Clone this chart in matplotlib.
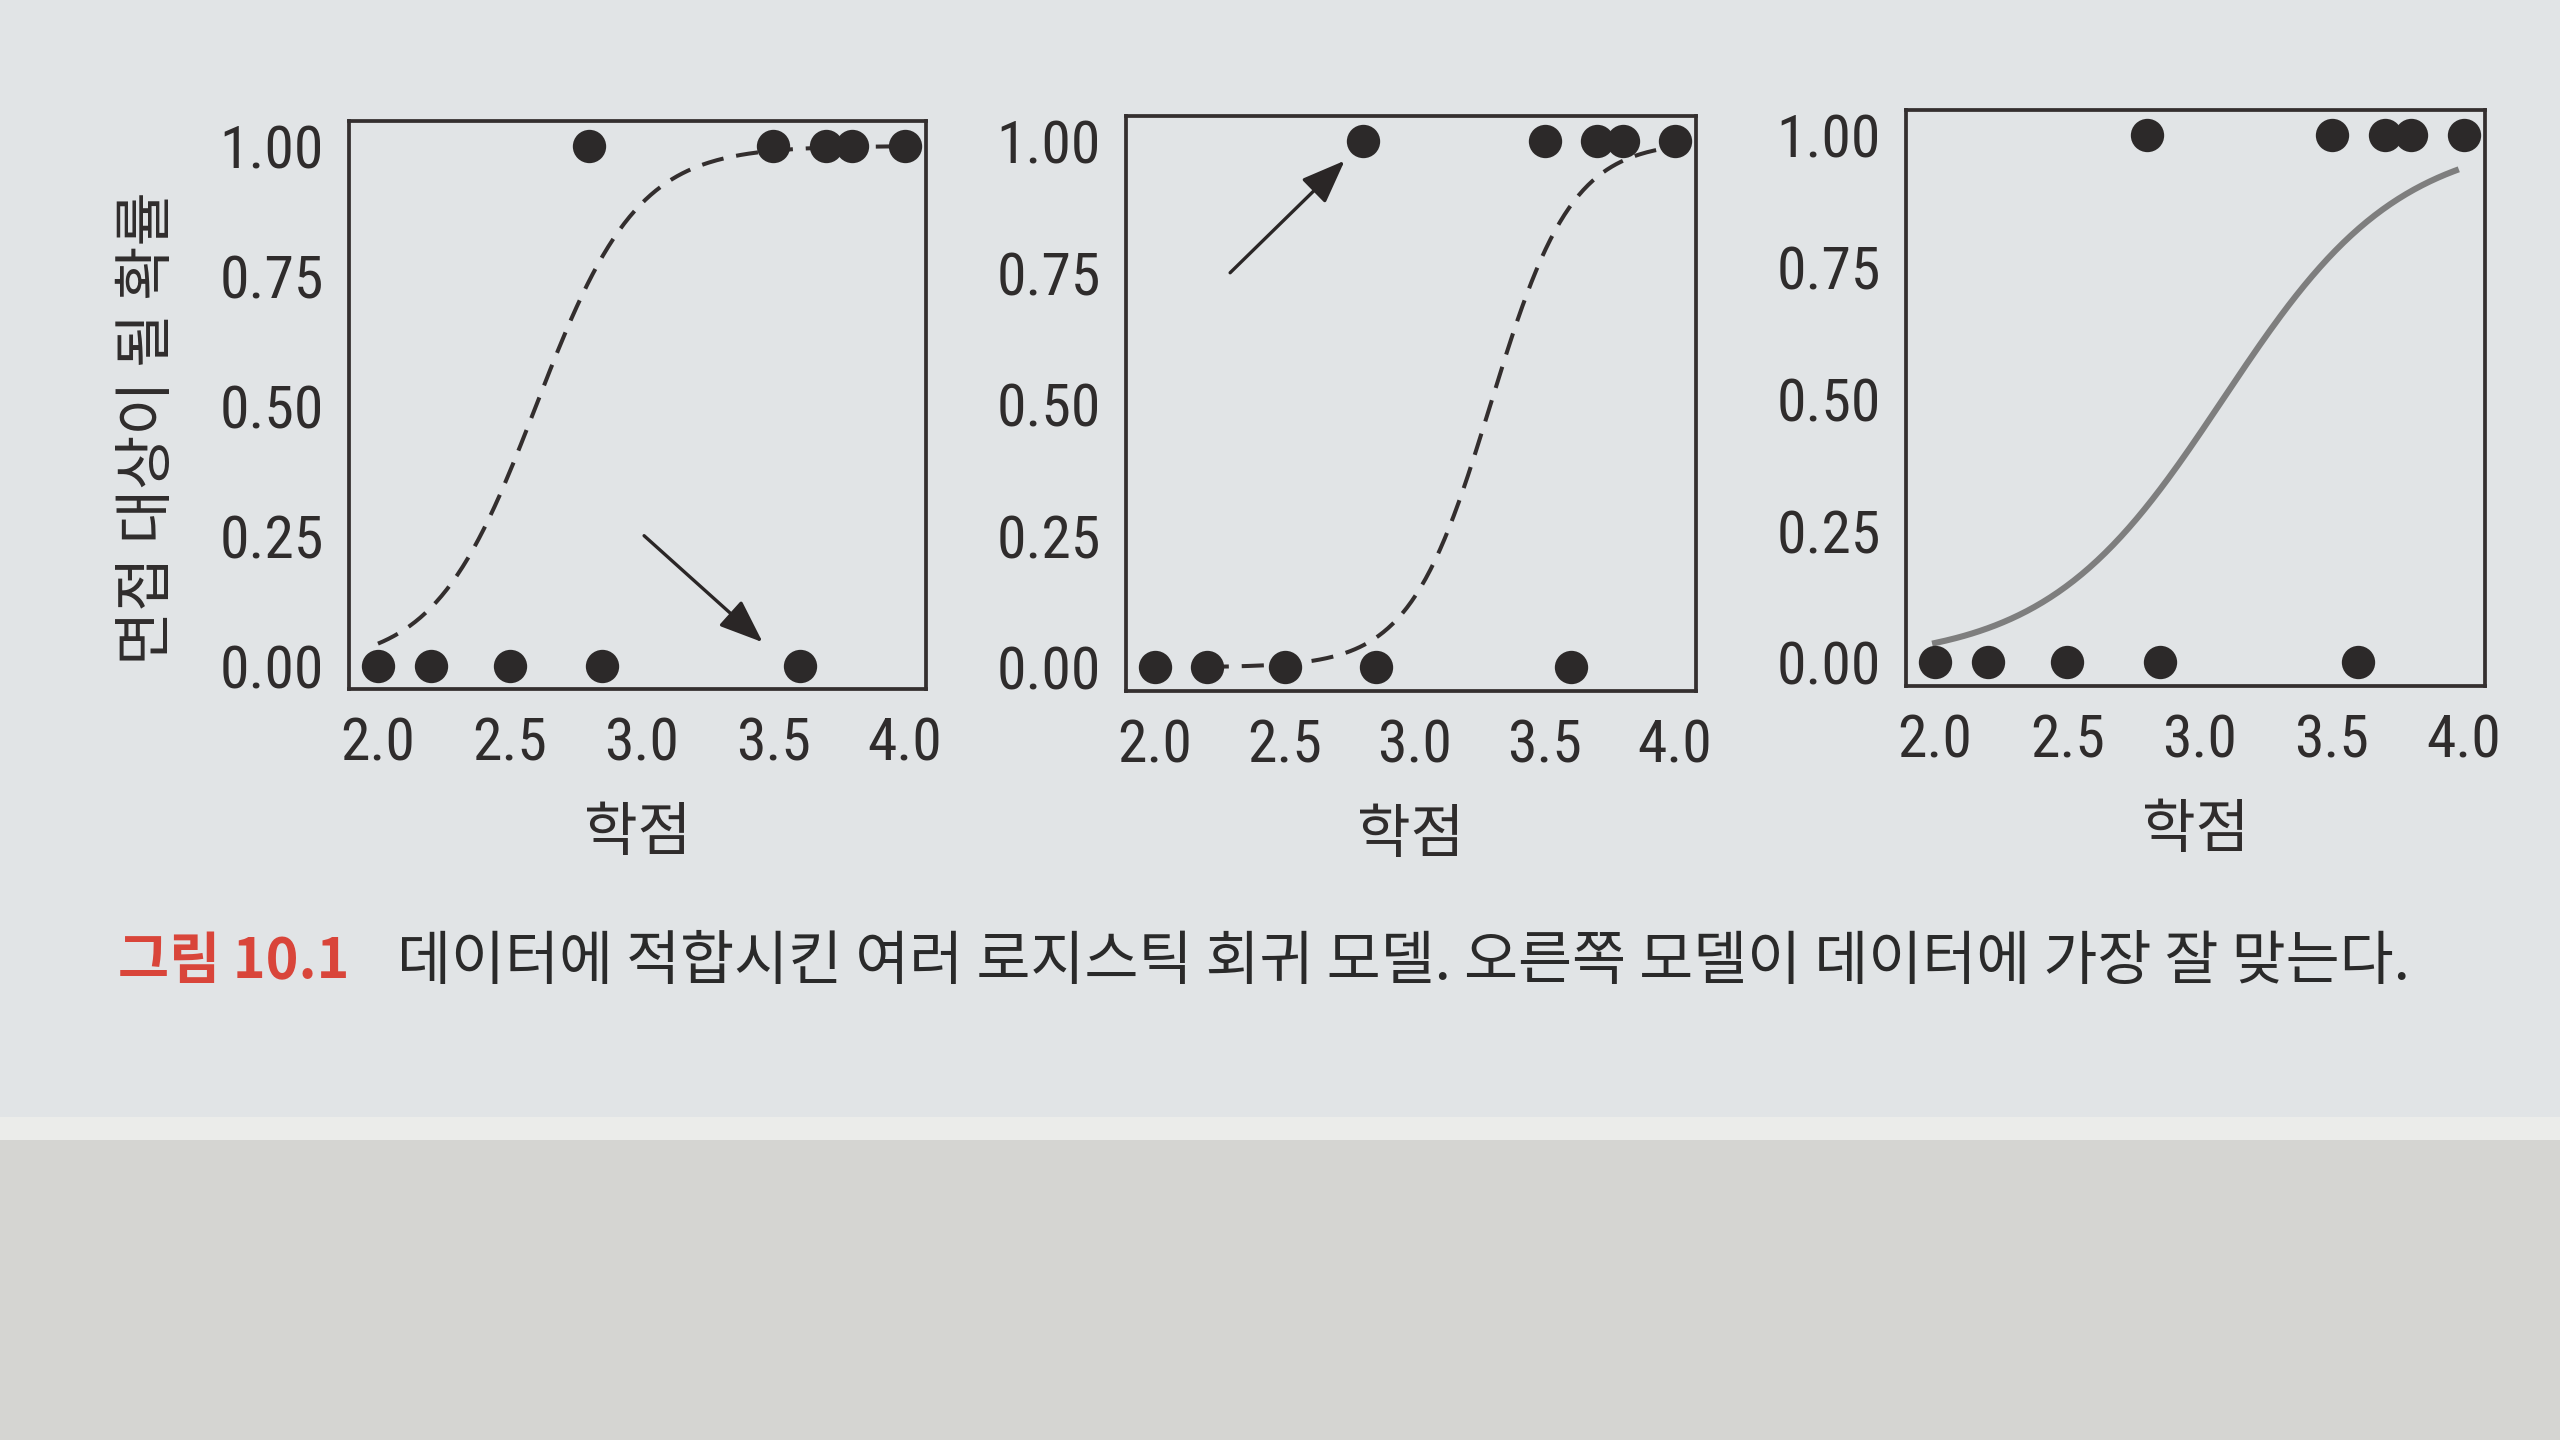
import matplotlib
matplotlib.use("Agg")
import matplotlib.pyplot as plt
from matplotlib import font_manager
from matplotlib.patches import Rectangle
import numpy as np

# data: GPA of applicants, split by outcome (0 = no interview, 1 = interview)
gpa_rejected = [2.0, 2.2, 2.5, 2.85, 3.6]
gpa_accepted = [2.8, 3.5, 3.7, 3.8, 4.0]

# fitted logistic models (intercept, slope) for each panel, and range they are drawn on
model_intercepts = [-13.52, -21.06, -9.27]
model_slopes = [5.2, 6.4, 3.0]
curve_start = [2.0, 2.2, 2.0]
curve_end = [4.0, 4.0, 3.97]
curve_styles = ["dashed", "dashed", "solid"]

# arrows in panels 1 and 2 (tail, head) in data coords
arrow_panels = [0, 1]
arrow_tails = [(3.01, 0.25), (2.29, 0.75)]
arrow_heads = [(3.46, 0.045), (2.73, 0.963)]

x_ticks = [2.0, 2.5, 3.0, 3.5, 4.0]
y_ticks = [0.0, 0.25, 0.5, 0.75, 1.0]
x_label = "학점"
y_label = "면접 대상이 될 확률"
caption_label = "그림 10.1"
caption_text = "데이터에 적합시킨 여러 로지스틱 회귀 모델. 오른쪽 모델이 데이터에 가장 잘 맞는다."

page_color = "#e1e4e6"
ink = "#2c2929"
kr_font = ["Noto Sans CJK KR", "DejaVu Sans"]

# narrow font for the numbers, whichever is installed
installed = {f.name for f in font_manager.fontManager.ttflist}
num_font = None
num_stretch = "normal"
num_size = 37
for name in ["Roboto Condensed", "Liberation Sans Narrow", "Open Sans Condensed"]:
    if name in installed:
        num_font = [name, "DejaVu Sans"]
        num_size = 43
        break
if num_font is None:
    if any(f.name == "DejaVu Sans" and "ondensed" in f.fname for f in font_manager.fontManager.ttflist):
        num_font = ["DejaVu Sans"]
        num_stretch = "condensed"
        num_size = 38
    else:
        num_font = ["Liberation Sans", "DejaVu Sans"]

fig = plt.figure(figsize=(25.6, 14.4), dpi=100, facecolor=page_color)

# page edge and the desk below it
fig.patches.append(Rectangle((0, 0), 1, (1440 - 1140) / 1440, transform=fig.transFigure,
                             facecolor="#d5d5d2", edgecolor="none", zorder=0))
fig.patches.append(Rectangle((0, (1440 - 1140) / 1440), 1, 23 / 1440, transform=fig.transFigure,
                             facecolor="#ebecea", edgecolor="none", zorder=0))

positions = [
    [349 / 2560, (1440 - 689) / 1440, 577 / 2560, 568 / 1440],
    [1126 / 2560, (1440 - 691) / 1440, 570 / 2560, 575 / 1440],
    [1906 / 2560, (1440 - 686) / 1440, 579 / 2560, 576 / 1440],
]

for i, pos in enumerate(positions):
    ax = fig.add_axes(pos)
    ax.set_facecolor(page_color)

    xs = np.linspace(curve_start[i], curve_end[i], 200)
    ys = 1 / (1 + np.exp(-(model_intercepts[i] + model_slopes[i] * xs)))
    if curve_styles[i] == "dashed":
        ax.plot(xs, ys, color="#332e2e", lw=2.9, dashes=(5.5, 3.2), zorder=2)
    else:
        ax.plot(xs, ys, color="#7e7e7e", lw=4.4, zorder=2)

    ax.plot(gpa_rejected, [0] * len(gpa_rejected), "o", color=ink, ms=24, mew=0, zorder=3)
    ax.plot(gpa_accepted, [1] * len(gpa_accepted), "o", color=ink, ms=24, mew=0, zorder=3)

    if i in arrow_panels:
        k = arrow_panels.index(i)
        ax.annotate("", xy=arrow_heads[k], xytext=arrow_tails[k],
                    arrowprops=dict(arrowstyle="-|>,head_length=0.9,head_width=0.35",
                                    color="#2a2626", lw=2.4, mutation_scale=30,
                                    shrinkA=0, shrinkB=0), zorder=4)

    ax.set_xlim(1.89, 4.08)
    ax.set_ylim(-0.045, 1.048)
    ax.set_xticks(x_ticks)
    ax.set_xticklabels([f"{t:.1f}" for t in x_ticks], family=num_font, fontstretch=num_stretch,
                       fontsize=num_size, color="#2f2c2c")
    ax.set_yticks(y_ticks)
    ax.set_yticklabels([f"{t:.2f}" for t in y_ticks], family=num_font, fontstretch=num_stretch,
                       fontsize=num_size, color="#2f2c2c")
    ax.tick_params(axis="both", length=0)
    ax.tick_params(axis="x", pad=19)
    ax.tick_params(axis="y", pad=18)
    for s in ax.spines.values():
        s.set_color("#342f2f")
        s.set_linewidth(2.7)
    ax.set_xlabel(x_label, family=kr_font, fontsize=42, color="#2f2c2c", labelpad=22)

fig.text(148 / 2560, 1 - 428 / 1440, y_label, rotation=90, ha="center", va="center",
         family=kr_font, fontsize=42.5, color="#2f2c2c")

fig.text(118 / 2560, 1 - 962 / 1440, caption_label, ha="left", va="center",
         family=kr_font, fontsize=40, fontweight="bold", color="#d9453a")
fig.text(397 / 2560, 1 - 962 / 1440, caption_text, ha="left", va="center",
         family=kr_font, fontsize=42.3, color="#2a2a2a")

fig.savefig("out.png", dpi=100, facecolor=page_color)
